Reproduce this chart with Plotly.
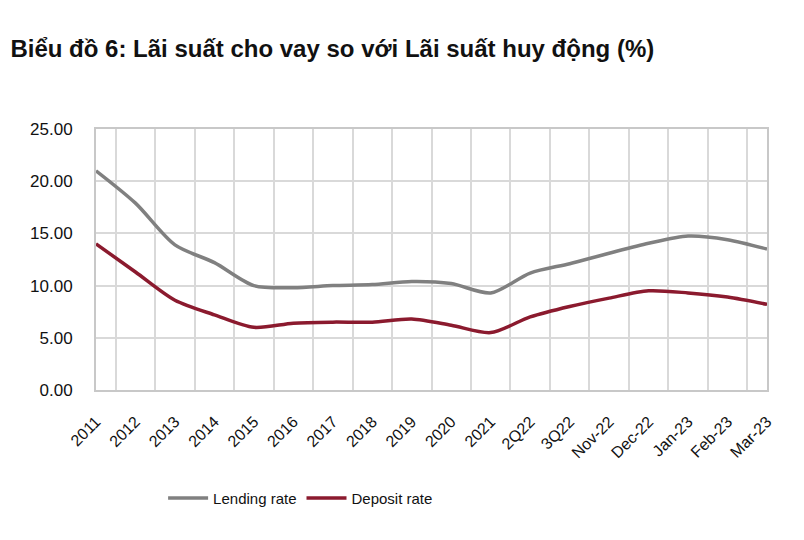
import plotly.graph_objects as go

categories = ["2011", "2012", "2013", "2014", "2015", "2016", "2017", "2018", "2019",
              "2020", "2021", "2Q22", "3Q22", "Nov-22", "Dec-22", "Jan-23", "Feb-23", "Mar-23"]
lending_rate = [21.0, 17.9, 13.9, 12.2, 10.0, 9.8, 10.0, 10.1, 10.4,
                10.2, 9.3, 11.2, 12.1, 13.1, 14.05, 14.75, 14.4, 13.5]
deposit_rate = [14.0, 11.3, 8.6, 7.2, 6.0, 6.4, 6.5, 6.5, 6.8,
                6.2, 5.5, 7.0, 8.0, 8.8, 9.5, 9.3, 8.9, 8.2]
y_ticks = [0, 5, 10, 15, 20, 25]

FONT = "Liberation Sans, Arial, sans-serif"

fig = go.Figure()
fig.add_trace(go.Scatter(x=categories, y=lending_rate, name="Lending rate", mode="lines",
                         line=dict(color="#808080", width=3.5, shape="spline", smoothing=0.8)))
fig.add_trace(go.Scatter(x=categories, y=deposit_rate, name="Deposit rate", mode="lines",
                         line=dict(color="#8b1a2e", width=3.5, shape="spline", smoothing=0.8)))

fig.update_layout(
    width=804, height=540,
    paper_bgcolor="white", plot_bgcolor="white",
    margin=dict(l=88, r=45, t=121, b=158),
    title=dict(text="<b>Biểu đồ 6: Lãi suất cho vay so với Lãi suất huy động (%)</b>",
               x=0.003, xanchor="left", y=0.925, yanchor="middle",
               font=dict(family=FONT, size=24, color="#111111")),
    font=dict(family=FONT, size=15, color="#111111"),
    legend=dict(orientation="h", x=0.1, xanchor="left", y=-0.415, yanchor="middle",
                font=dict(family=FONT, size=15, color="#111111"), itemwidth=40),
    showlegend=True,
)
fig.update_xaxes(type="category", tickson="boundaries", showgrid=True, gridcolor="#d9d9d9",
                 gridwidth=2, showline=True, linecolor="#c8c8c8", linewidth=2, mirror=True,
                 ticks="", tickangle=-45, automargin=False, ticklabelstandoff=14,
                 ticklabelshift=0,
                 tickfont=dict(family=FONT, size=16, color="#111111"))
fig.update_yaxes(range=[0, 25], tickvals=y_ticks, ticktext=[f"{v:.2f}" for v in y_ticks],
                 showgrid=True, gridcolor="#d9d9d9", gridwidth=2, showline=True,
                 linecolor="#c8c8c8", linewidth=2, mirror=True, ticks="", zeroline=False,
                 ticklabelstandoff=18, automargin=False,
                 tickfont=dict(family=FONT, size=17, color="#111111"))

fig.write_html("out.html")
